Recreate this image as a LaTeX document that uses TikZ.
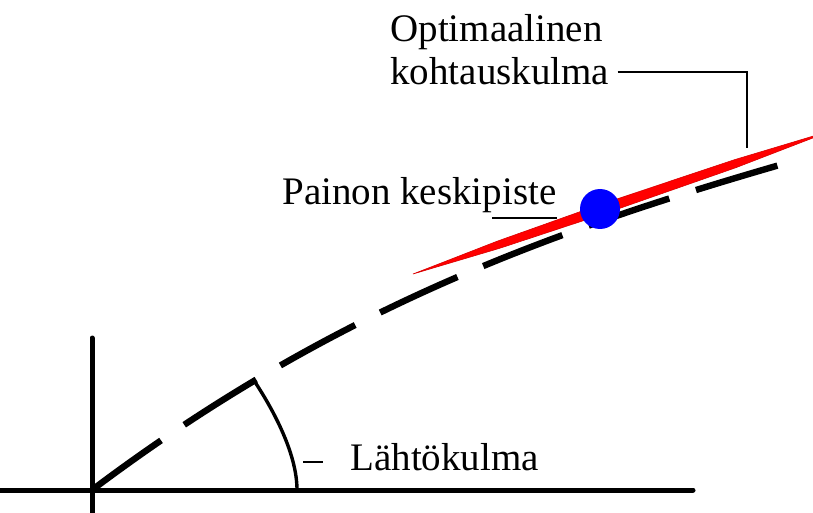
\documentclass[tikz,border=0pt]{standalone}
\usepackage{fontspec}
\setmainfont{Liberation Serif}
\usetikzlibrary{positioning,calc}

\begin{document}
\begin{tikzpicture}[
      x=0.5pt, y=-0.5pt,
      axisline/.style={line width=2.5pt, line cap=round},
      trajline/.style={line width=3.2pt, dash pattern=on 42.5pt off 14pt},
      anglearc/.style={line width=1.7pt},
      leader/.style={line width=1pt},
      ticklead/.style={line width=1.4pt},
      javelin/.style={fill=red, draw=red!85!black, line width=0.3pt},
      cgdot/.style={
        circle,
        fill=blue,
        inner sep=0pt,
        minimum size=20pt
      },
      lbl/.style={
        font=\fontsize{19.5}{21.5}\selectfont,
        inner sep=0pt,
        align=left
      }
    ]
    \useasboundingbox (0,0) rectangle (813,513);
    \clip (0,0) rectangle (813,513);

    % Coordinates
    \coordinate (O) at (92,490);      % launch point
    \coordinate (T) at (790,162);     % trajectory end
    \coordinate (Xend) at (693,490);
    \coordinate (Xbeg) at (0,490);
    \coordinate (Ytop) at (92,338);
    \coordinate (Ybot) at (92,520);
    \coordinate (arcA) at (253,379);
    \coordinate (arcB) at (297,490);

    % Trajectory and axes
    \draw[trajline] (O) .. controls (332,309.5) and (550,231) .. (T);
    \draw[axisline] (Xbeg) -- (Xend);
    \draw[axisline] (Ybot) -- (Ytop);
    \draw[anglearc] (arcA) .. controls (275,412) and (297,455) .. (arcB);

    % Javelin
    \draw[javelin] (413,274) -- (496.9,241.3) -- (598.6,205.1) -- (733.2,160.1)
      -- (833.8,129.9) -- (735.8,167.7) -- (601.8,214.6) -- (499.3,248.4) -- cycle;
    \node[cgdot] (cg) at (600,209) {};

    % Labels
    \node[lbl, anchor=north west] (opt) at (390,14) {Optimaalinen\\kohtauskulma};
    \node[lbl, anchor=base west] (kp) at (282,205) {Painon keskipiste};
    \node[lbl, anchor=base west] (lk) at (350,470) {Lähtökulma};

    % Leaders
    \coordinate (optbend) at (747,72);
    \coordinate (optend) at (747,148);
    \path (opt.east |- optbend) coordinate (optstart);
    \draw[leader] ([xshift=4pt]optstart) -- (optbend) -- (optend);

    \coordinate (kpstart) at (492,218);
    \coordinate (kpend) at (557,218);
    \draw[leader] (kpstart) -- (kpend);

    \coordinate (lktick) at (303,462);
    \draw[ticklead] (lktick) -- ([xshift=-13.5pt]lk.west |- lktick);
\end{tikzpicture}
\end{document}
